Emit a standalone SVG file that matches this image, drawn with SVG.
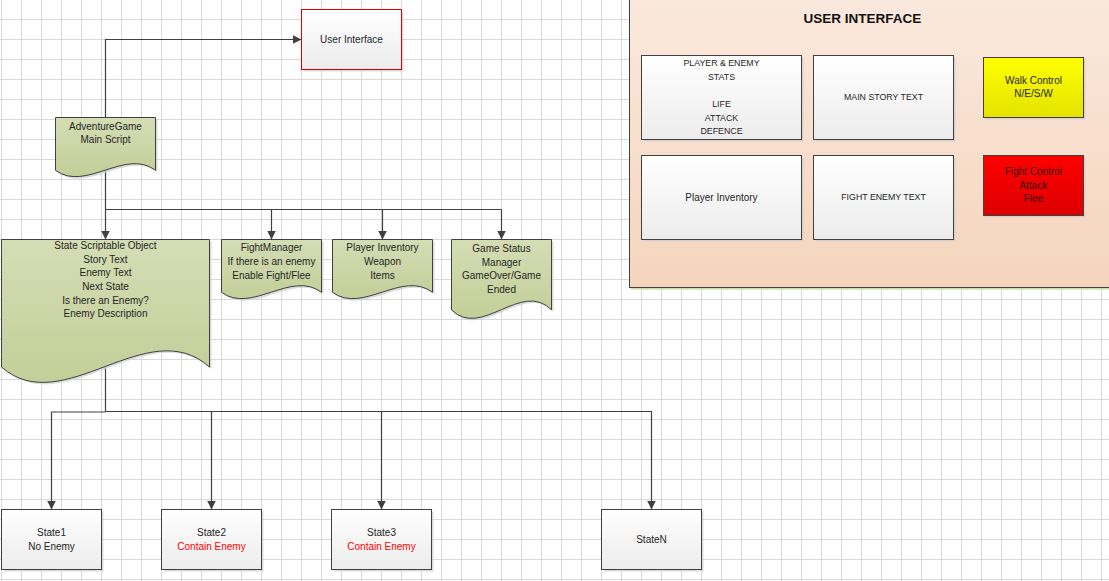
<svg xmlns="http://www.w3.org/2000/svg" width="1109" height="581" viewBox="0 0 1109 581">
<style>
text{font-family:"Liberation Sans",Arial,sans-serif;font-size:10px;fill:#262626;text-anchor:middle}
.caps{font-size:8.8px}
.red{fill:#ff0000}
.title{font-size:13.5px;font-weight:bold;fill:#111}
.box{fill:url(#gBox);stroke:#404040;stroke-width:1}
.doc{fill:url(#gDoc);stroke:#404040;stroke-width:1}
.sh{fill:#cfcfcf;opacity:0.75}
.con{fill:none;stroke:#404040;stroke-width:1.2}
.arr{fill:none;stroke:#404040;stroke-width:1.2;marker-end:url(#ah)}
</style>
<defs>
<pattern id="grid" patternUnits="userSpaceOnUse" x="1" y="19" width="20" height="20">
<path d="M0.5,0V20M0,0.5H20" stroke="#d9d9d9" stroke-width="1" fill="none"/>
</pattern>
<linearGradient id="gBox" x1="0" y1="0" x2="0" y2="1"><stop offset="0" stop-color="#ffffff"/><stop offset="1" stop-color="#ececec"/></linearGradient>
<linearGradient id="gDoc" x1="0" y1="0" x2="0" y2="1"><stop offset="0" stop-color="#d5ddb5"/><stop offset="1" stop-color="#c3ce98"/></linearGradient>
<linearGradient id="gPanel" x1="0" y1="0" x2="0" y2="1"><stop offset="0" stop-color="#fbe9de"/><stop offset="1" stop-color="#f5d4bc"/></linearGradient>
<linearGradient id="gYel" x1="0" y1="0" x2="0" y2="1"><stop offset="0" stop-color="#ffff00"/><stop offset="1" stop-color="#e3e300"/></linearGradient>
<linearGradient id="gRed" x1="0" y1="0" x2="0" y2="1"><stop offset="0" stop-color="#ff0000"/><stop offset="1" stop-color="#dd0000"/></linearGradient>
<marker id="ah" markerUnits="userSpaceOnUse" markerWidth="10" markerHeight="10" refX="9" refY="4.5" orient="auto">
<path d="M0,0L9,4.5L0,9z" fill="#404040"/>
</marker>
</defs>
<rect width="1109" height="581" fill="#ffffff"/>
<rect x="0" y="0" width="1109" height="581" fill="url(#grid)"/>

<g id="ui-panel">
<line x1="631" y1="288.8" x2="1109" y2="288.8" stroke="#c6dda6" stroke-width="1.5"/>
<rect x="629.5" y="-10" width="490" height="297.5" fill="url(#gPanel)" stroke="#404040"/>
<text class="title" x="862.5" y="23.2">USER INTERFACE</text>
</g>

<g id="ui-stats">
<rect class="sh" x="643.5" y="57.5" width="160" height="84"/>
<rect class="box" x="641.5" y="55.5" width="160" height="84"/>
<text class="caps" x="721.5" y="66.2">PLAYER &amp; ENEMY</text>
<text class="caps" x="721.5" y="80">STATS</text>
<text class="caps" x="721.5" y="107">LIFE</text>
<text class="caps" x="721.5" y="120.5">ATTACK</text>
<text class="caps" x="721.5" y="134">DEFENCE</text>
</g>
<g id="ui-story">
<rect class="sh" x="815.5" y="57.5" width="140" height="84"/>
<rect class="box" x="813.5" y="55.5" width="140" height="84"/>
<text class="caps" x="883.5" y="100.2">MAIN STORY TEXT</text>
</g>
<g id="ui-walk">
<rect class="sh" x="985.5" y="59.5" width="100" height="60"/>
<rect x="983.5" y="57.5" width="100" height="60" fill="url(#gYel)" stroke="#404040"/>
<text x="1033.5" y="83.5">Walk Control</text>
<text x="1033.5" y="97">N/E/S/W</text>
</g>
<g id="ui-inventory">
<rect class="sh" x="643.5" y="157.5" width="160" height="84"/>
<rect class="box" x="641.5" y="155.5" width="160" height="84"/>
<text x="721.5" y="200.5">Player Inventory</text>
</g>
<g id="ui-fighttext">
<rect class="sh" x="815.5" y="157.5" width="140" height="84"/>
<rect class="box" x="813.5" y="155.5" width="140" height="84"/>
<text class="caps" x="883.5" y="200.2">FIGHT ENEMY TEXT</text>
</g>
<g id="ui-fight">
<rect class="sh" x="985.5" y="157.5" width="100" height="60"/>
<rect x="983.5" y="155.5" width="100" height="60" fill="url(#gRed)" stroke="#404040"/>
<text x="1033.5" y="175" fill="#3a0000" style="fill:#3a0000">Fight Control</text>
<text x="1033.5" y="188.5" style="fill:#3a0000">Attack</text>
<text x="1033.5" y="202" style="fill:#3a0000">Flee</text>
</g>

<g id="connectors">
<polyline class="arr" points="105.5,117.5 105.5,39.5 301.5,39.5"/>
<polyline class="arr" points="105.5,170 105.5,239.5"/>
<polyline class="con" points="105.5,209.5 501.5,209.5"/>
<polyline class="arr" points="271.5,209.5 271.5,239.5"/>
<polyline class="arr" points="382.5,209.5 382.5,239.5"/>
<polyline class="arr" points="501.5,209.5 501.5,239.5"/>
<polyline class="con" points="105.5,366 105.5,412"/>
<polyline class="arr" points="105.5,412 51.5,412 51.5,509.5"/>
<polyline class="arr" points="105.5,411.5 211.5,411.5 211.5,509.5"/>
<polyline class="arr" points="211.5,411.5 381.5,411.5 381.5,509.5"/>
<polyline class="arr" points="381.5,411.5 651.5,411.5 651.5,509.5"/>
</g>

<g id="user-interface">
<rect class="sh" x="303.5" y="11.5" width="100" height="60"/>
<rect x="301.5" y="9.5" width="100" height="60" fill="url(#gBox)" stroke="#e00000"/>
<text x="351.5" y="43">User Interface</text>
</g>

<g id="adventure-game">
<path class="sh" d="M57.5,119.5H157.5V172.3C127.5,149.5 87.5,194.5 57.5,172.3Z"/>
<path class="doc" d="M55.5,117.5H155.5V170.3C125.5,147.5 85.5,192.5 55.5,170.3Z"/>
<text x="105.5" y="129.5">AdventureGame</text>
<text x="105.5" y="143">Main Script</text>
</g>

<g id="state-scriptable">
<path class="sh" d="M3.5,241.5H211.5V369.1C149.5,313.5 65.5,422.8 3.5,369.1Z"/>
<path class="doc" d="M1.5,239.5H209.5V367.1C147.5,311.5 63.5,420.8 1.5,367.1Z"/>
<text x="105.5" y="249">State Scriptable Object</text>
<text x="105.5" y="262.7">Story Text</text>
<text x="105.5" y="276.2">Enemy Text</text>
<text x="105.5" y="289.5">Next State</text>
<text x="105.5" y="303.5">Is there an Enemy?</text>
<text x="105.5" y="316.8">Enemy Description</text>
</g>

<g id="fight-manager">
<path class="sh" d="M223.5,241.5H323.5V294.3C293.5,271.5 253.5,316.5 223.5,294.3Z"/>
<path class="doc" d="M221.5,239.5H321.5V292.3C291.5,269.5 251.5,314.5 221.5,292.3Z"/>
<text x="271.5" y="251.2">FightManager</text>
<text x="271.5" y="265.2">If there is an enemy</text>
<text x="271.5" y="278.8">Enable Fight/Flee</text>
</g>

<g id="player-inventory">
<path class="sh" d="M334.5,241.5H434.5V294.3C404.5,271.5 364.5,316.5 334.5,294.3Z"/>
<path class="doc" d="M332.5,239.5H432.5V292.3C402.5,269.5 362.5,314.5 332.5,292.3Z"/>
<text x="382.5" y="251.2">Player Inventory</text>
<text x="382.5" y="265.2">Weapon</text>
<text x="382.5" y="278.8">Items</text>
</g>

<g id="game-status">
<path class="sh" d="M453.5,241.5H553.5V311.9C523.5,281.5 483.5,341.5 453.5,311.9Z"/>
<path class="doc" d="M451.5,239.5H551.5V309.9C521.5,279.5 481.5,339.5 451.5,309.9Z"/>
<text x="501.5" y="251.8">Game Status</text>
<text x="501.5" y="265.5">Manager</text>
<text x="501.5" y="278.8">GameOver/Game</text>
<text x="501.5" y="292.8">Ended</text>
</g>

<g id="state1">
<rect class="sh" x="3.5" y="511.5" width="100" height="60"/>
<rect class="box" x="1.5" y="509.5" width="100" height="60"/>
<text x="51.5" y="535.8">State1</text>
<text x="51.5" y="549.5">No Enemy</text>
</g>
<g id="state2">
<rect class="sh" x="163.5" y="511.5" width="100" height="60"/>
<rect class="box" x="161.5" y="509.5" width="100" height="60"/>
<text x="211.5" y="535.8">State2</text>
<text class="red" x="211.5" y="549.5">Contain Enemy</text>
</g>
<g id="state3">
<rect class="sh" x="333.5" y="511.5" width="100" height="60"/>
<rect class="box" x="331.5" y="509.5" width="100" height="60"/>
<text x="381.5" y="535.8">State3</text>
<text class="red" x="381.5" y="549.5">Contain Enemy</text>
</g>
<g id="stateN">
<rect class="sh" x="603.5" y="511.5" width="100" height="60"/>
<rect class="box" x="601.5" y="509.5" width="100" height="60"/>
<text x="651.5" y="542.8">StateN</text>
</g>
</svg>
